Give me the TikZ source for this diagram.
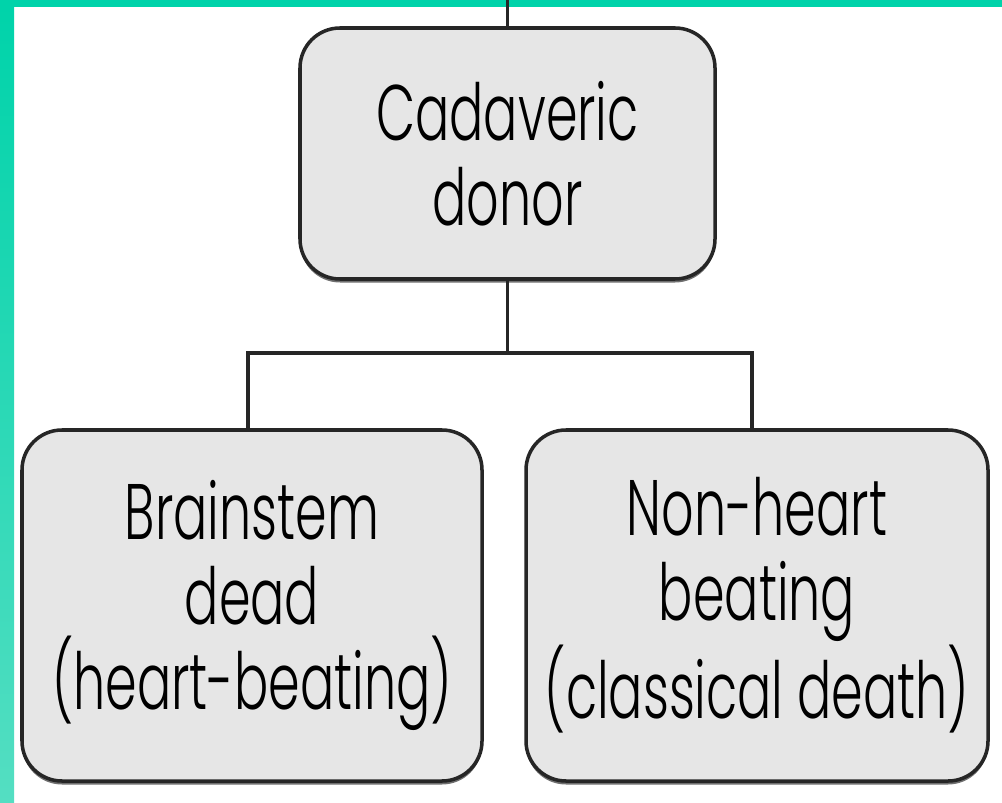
\documentclass[tikz,border=0pt]{standalone}
\usepackage{fontspec}
\setmainfont{Poppins}[FakeStretch=0.645, UprightFont=* Light]
\usepackage{tikz}
\usetikzlibrary{positioning, calc, shadows}
\definecolor{BandTop}{RGB}{0, 211, 170}
\definecolor{BandBottom}{RGB}{84, 222, 194}
\definecolor{BoxFill}{RGB}{230, 230, 230}

\begin{document}
\begin{tikzpicture}[
    donorbox/.style={draw=black!85, line width=1pt, fill=BoxFill, rounded corners=0.4cm, align=center,
      font=\fontsize{22.4}{24.2}\selectfont, inner sep=0pt,
      drop shadow={shadow xshift=0pt, shadow yshift=-0.035cm, fill=black!70, opacity=0.8}},
    link/.style={draw=black!85, line width=1pt}
  ]
    % Fondo y bandas
    \useasboundingbox (0,0) rectangle (10.02,8.02);
    \fill[white] (0,0) rectangle (10.02,8.02);
    \shade[top color=BandTop, bottom color=BandBottom] (0,0) rectangle (0.14,7.95);
    \fill[BandTop] (0,7.95) rectangle (10.02,8.02);

    % Donante (arriba)
    \node[donorbox, minimum width=4.15cm, minimum height=2.51cm] (donor) at (5.075, 6.485) {Cadaveric\\ donor};

    % Tipos (abajo)
    \node[donorbox, minimum width=4.6cm, minimum height=3.51cm] (brain) at (2.52, 1.965) {Brainstem\\ dead\\ (heart-beating)};
    \node[donorbox, minimum width=4.62cm, minimum height=3.51cm] (nhb) at (7.57, 1.965) {Non-heart\\ beating\\ (classical death)};

    % Lineas
    \coordinate (entry) at (5.075, 8.02);
    \coordinate (split) at (5.075, 4.49);
    \draw[link] (entry) -- (donor.north);
    \draw[link] (donor.south) -- (split);
    \draw[link] ([xshift=-0.04cm]brain.north) |- (split) -| ([xshift=-0.05cm]nhb.north);
  \end{tikzpicture}
\end{document}
